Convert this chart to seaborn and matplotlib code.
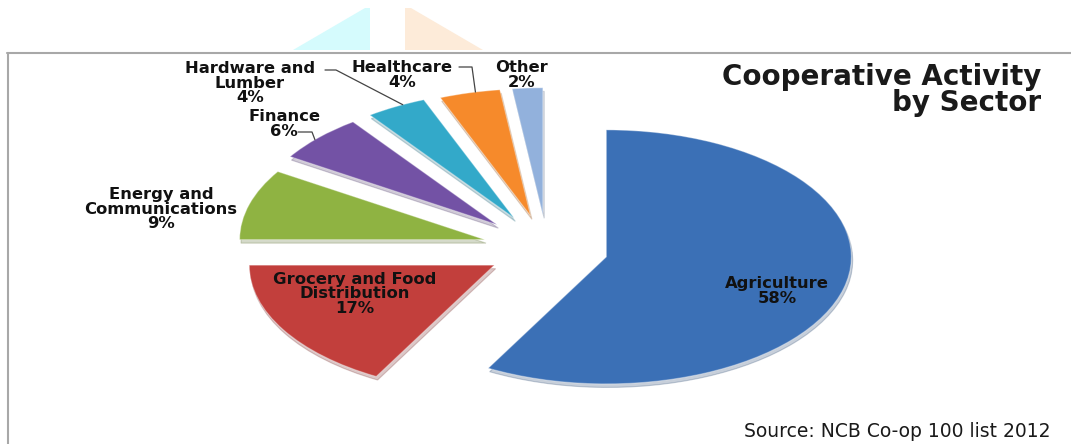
import numpy as np
import matplotlib
matplotlib.use("Agg")
import matplotlib.pyplot as plt
from matplotlib.patches import Polygon
from matplotlib.lines import Line2D
import seaborn as sns

# ---- data ----
sectors = ["Agriculture", "Grocery and Food\nDistribution", "Energy and\nCommunications",
           "Finance", "Hardware and\nLumber", "Healthcare", "Other"]
shares = [58, 17, 9, 6, 4, 4, 2]
colors = ["#3b70b6", "#c23f3c", "#8fb342", "#7352a5", "#33a9c9", "#f68a2b", "#92b1dc"]
title = "Cooperative Activity\nby Sector"
source = "Source: NCB Co-op 100 list 2012"

# ---- style ----
sns.set_theme(style="white")
plt.rcParams["font.family"] = ["DejaVu Sans"]

W, H = 1071, 444
fig = plt.figure(figsize=(W / 100, H / 100), dpi=100)
fig.patch.set_facecolor("white")

# pie geometry in pixels (ellipse)
CX, CY, RX, RY = 547, 249, 245, 127
ax = fig.add_axes([0, 0, 1, 1])
explode = [0.25, 0.25, 0.265, 0.28, 0.28, 0.27, 0.27]
wedges, _ = ax.pie(shares, startangle=90, counterclock=False, explode=explode,
                   colors=colors, radius=1,
                   shadow=dict(ox=0.004, oy=-0.02, shade=0.4, alpha=0.25),
                   wedgeprops=dict(linewidth=0.8, edgecolor="#ffffff55"))
ax.set_aspect("auto")
ax.set_xlim(-CX / RX, (W - CX) / RX)
ax.set_ylim(-(H - CY) / RY, CY / RY)
ax.axis("off")


def px(x, y):
    """pixel (from top-left) -> data coords"""
    return (x - CX) / RX, (CY - y) / RY


def edge_point(w, ang, frac=1.0):
    cx, cy = w.center
    a = np.deg2rad(ang)
    return cx + w.r * frac * np.cos(a), cy + w.r * frac * np.sin(a)


def ffig(x, y):
    return x / W, 1 - y / H


# slice labels
label_px = [(777, 291), (355, 294), (161, 209), (284, 124), (250, 83), (402, 75), (522, 75)]
for name, val, (lx, ly) in zip(sectors, shares, label_px):
    ax.text(*px(lx, ly), f"{name}\n{val}%", ha="center", va="center",
            multialignment="center", fontsize=11.8, fontweight="bold",
            color="#111111", linespacing=0.96, zorder=5)

# leader lines
leaders = [
    (4, [(325, 70), (336, 70)], 117),
    (5, [(459, 67), (472, 67)], 103),
    (3, [(298, 132), (312, 132)], 138),
]
for idx, pts, ang in leaders:
    xs = [px(*p)[0] for p in pts]
    ys = [px(*p)[1] for p in pts]
    ex, ey = edge_point(wedges[idx], ang)
    xs.append(ex)
    ys.append(ey)
    ax.plot(xs, ys, color="#444444", lw=0.9)

# title and source
fig.text(*ffig(1041, 90), title, ha="right", va="center", multialignment="right",
         fontsize=20, fontweight="bold", color="#1a1a1a", linespacing=0.9)
fig.text(*ffig(1050, 431), source, ha="right", va="center", fontsize=13.5,
         color="#1a1a1a")

# frame lines
fig.add_artist(Line2D([7 / W, 1.0], [1 - 53 / H] * 2, color="#a8a8a8", lw=1.5,
                      transform=fig.transFigure))
fig.add_artist(Line2D([8 / W] * 2, [1 - 53 / H, 0], color="#a8a8a8", lw=1.5,
                      transform=fig.transFigure))

# faint decorative triangles at top
fig.add_artist(Polygon([ffig(293, 50), ffig(365, 8), ffig(370, 8), ffig(370, 50)],
                       closed=True, facecolor="#d5fbfd", edgecolor="none",
                       transform=fig.transFigure))
fig.add_artist(Polygon([ffig(405, 8), ffig(411, 8), ffig(483, 50), ffig(405, 50)],
                       closed=True, facecolor="#fdebd9", edgecolor="none",
                       transform=fig.transFigure))

fig.savefig("out.png", dpi=100, facecolor="white")
